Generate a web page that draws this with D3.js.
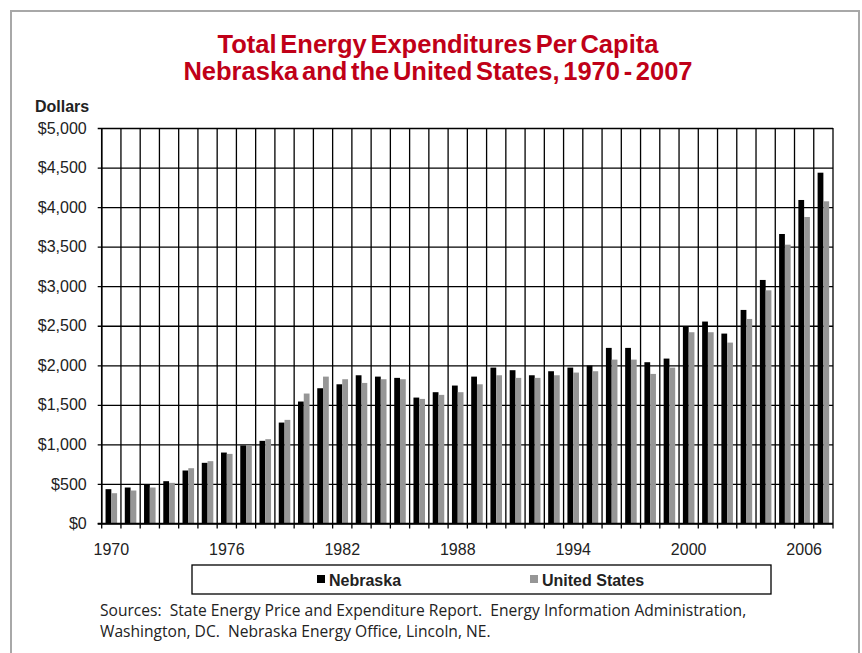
<!DOCTYPE html>
<html>
<head>
<meta charset="utf-8">
<script src="https://cdn.jsdelivr.net/npm/d3@7"></script>
<style>
  html, body { margin: 0; padding: 0; background: #fff; }
  svg { display: block; }
</style>
</head>
<body>
<svg id="chart" width="862" height="653"></svg>
<script>
// data
const years = d3.range(1970, 2008);
const nebraska = [434, 455, 493, 535, 670, 767, 897, 986, 1045, 1276,
  1542, 1710, 1760, 1874, 1857, 1841, 1592, 1660, 1744, 1857,
  1971, 1938, 1874, 1925, 1971, 1997, 2220, 2220, 2039, 2085,
  2494, 2553, 2401, 2700, 3079, 3660, 4090, 4435];
const unitedStates = [383, 417, 455, 514, 699, 788, 880, 986, 1066, 1310,
  1643, 1857, 1824, 1777, 1824, 1824, 1575, 1626, 1660, 1760,
  1874, 1841, 1841, 1874, 1908, 1925, 2072, 2072, 1891, 1971,
  2418, 2418, 2287, 2586, 2948, 3525, 3875, 4073];
const seriesNames = ["Nebraska", "United States"];
const seriesColors = ["#000000", "#969696"];
const yTicks = d3.range(0, 5001, 500);
const xLabelYears = [1970, 1976, 1982, 1988, 1994, 2000, 2006];
const titleLines = ["Total Energy Expenditures Per Capita",
  "Nebraska and the United States, 1970 - 2007"];
const sourceLines = ["Sources:  State Energy Price and Expenditure Report.  Energy Information Administration,",
  "Washington, DC.  Nebraska Energy Office, Lincoln, NE."];

const svg = d3.select("#chart");
const mLeft = 101.7, mRight = 833, mTop = 128, mBottom = 523.5;
const pw = mRight - mLeft, ph = mBottom - mTop;
const arial = "Liberation Sans, Arial, sans-serif";

// frame
svg.append("rect")
  .attr("x", 11).attr("y", 11).attr("width", 848).attr("height", 660)
  .attr("fill", "none").attr("stroke", "#a8a8a8").attr("stroke-width", 2);

// title
svg.append("g").selectAll("text").data(titleLines).join("text")
  .attr("x", 438).attr("y", (d, i) => 53 + i * 27)
  .attr("text-anchor", "middle")
  .style("font-family", arial)
  .style("font-weight", "bold").style("font-size", "25.5px")
  .style("word-spacing", "-3.4px")
  .attr("fill", "#c00018")
  .text(d => d);

// scales
const x = d3.scaleBand().domain(years).range([0, pw]).paddingInner(0.4).paddingOuter(0.2);
const xs = d3.scaleBand().domain(seriesNames).range([0, x.bandwidth()]);
const y = d3.scaleLinear().domain([0, 5000]).range([ph, 0]);

const g = svg.append("g").attr("transform", `translate(${mLeft},${mTop})`);

// y axis with gridlines
const yaxis = d3.axisLeft(y).tickValues(yTicks).tickFormat(d3.format("$,")).tickSize(-pw).tickPadding(15);
g.append("g").call(yaxis)
  .call(a => a.select(".domain").remove())
  .call(a => a.selectAll(".tick line").attr("x1", -4).attr("x2", pw)
    .attr("stroke", "#000").attr("stroke-width", 1.3))
  .call(a => a.selectAll(".tick text")
    .style("font-family", arial)
    .style("font-size", "16px").attr("fill", "#222"));

// vertical category gridlines
const edges = years.map(d => x(d) - x.step() * x.paddingOuter()).concat([pw]);
g.append("g").selectAll("line").data(edges).join("line")
  .attr("x1", d => d).attr("x2", d => d)
  .attr("y1", 0).attr("y2", ph + 5)
  .attr("stroke", "#000").attr("stroke-width", 1.3);

// bars
const rows = years.map((yr, i) => ({ year: yr, values: [nebraska[i], unitedStates[i]] }));
g.append("g").selectAll("g").data(rows).join("g")
  .attr("transform", d => `translate(${x(d.year)},0)`)
  .selectAll("rect").data(d => d.values.map((v, j) => ({ key: seriesNames[j], v, j })))
  .join("rect")
  .attr("x", d => xs(d.key)).attr("width", xs.bandwidth())
  .attr("y", d => y(d.v)).attr("height", d => ph - y(d.v))
  .attr("fill", d => seriesColors[d.j]);

// axis lines
g.append("line").attr("x1", -4).attr("x2", pw).attr("y1", ph).attr("y2", ph)
  .attr("stroke", "#000").attr("stroke-width", 1.5);
g.append("line").attr("x1", 0).attr("x2", 0).attr("y1", 0).attr("y2", ph)
  .attr("stroke", "#000").attr("stroke-width", 1.5);

// x labels
const xaxis = d3.axisBottom(x).tickValues(xLabelYears).tickSize(0).tickPadding(20);
g.append("g").attr("transform", `translate(0,${ph})`).call(xaxis)
  .call(a => a.select(".domain").remove())
  .call(a => a.selectAll(".tick text")
    .style("font-family", "Liberation Sans Narrow, Liberation Sans, Arial, sans-serif")
    .style("font-size", "16px").attr("fill", "#222"));

// y title
svg.append("text").attr("x", 35).attr("y", 112)
  .style("font-family", arial)
  .style("font-weight", "bold").style("font-size", "16px").attr("fill", "#222")
  .text("Dollars");

// legend
svg.append("rect").attr("x", 192).attr("y", 565).attr("width", 579).attr("height", 29)
  .attr("fill", "#fff").attr("stroke", "#000").attr("stroke-width", 1.3);
const legendX = [317, 530];
const lg = svg.append("g").selectAll("g").data(seriesNames).join("g")
  .attr("transform", (d, i) => `translate(${legendX[i]},0)`);
lg.append("rect").attr("x", 0).attr("y", 575).attr("width", 8).attr("height", 8)
  .attr("fill", (d, i) => seriesColors[i]);
lg.append("text").attr("x", 12).attr("y", 586)
  .style("font-family", arial)
  .style("font-weight", "bold").style("font-size", "16px").attr("fill", "#222")
  .text(d => d);

// sources
svg.append("g").selectAll("text").data(sourceLines).join("text")
  .attr("x", 100).attr("y", (d, i) => 616 + i * 21)
  .style("font-family", "Open Sans, Noto Sans, sans-serif")
  .style("font-size", "15.6px").attr("fill", "#222")
  .style("white-space", "pre")
  .text(d => d);
</script>
</body>
</html>
